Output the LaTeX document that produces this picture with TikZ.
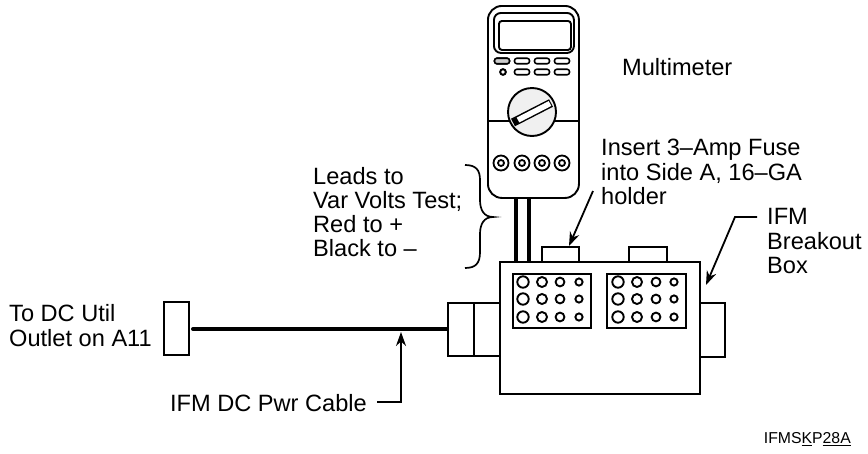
\documentclass[tikz,border=0pt]{standalone}
\usepackage{fontspec}
\setmainfont{Liberation Sans}
\usetikzlibrary{arrows.meta}
\tikzset{
    outline/.style={draw, line width=1.9pt},
    label text/.style={anchor=west, align=left, inner sep=0pt, font=\fontsize{23.6}{24.2}\selectfont},
    callout/.style={line width=1.8pt, -{Stealth[length=14pt,width=10pt]}},
    pill/.style={draw, line width=1.6pt, rounded corners=2.4pt, minimum width=15pt, minimum height=5.5pt, inner sep=0pt},
    block/.style={outline, inner sep=0pt, anchor=north west},
}
\newcommand{\holes}[1]{%
    \foreach \hx/\hr in {#1} {
        \foreach \hy in {282,299,317} {
            \draw[line width=1.9pt] (\hx,\hy) circle (\hr);
        }
    }
}
\begin{document}
\begin{tikzpicture}[x=1pt, y=-1pt]
    \useasboundingbox (0,0) rectangle (868,453);

    % meter
    \node[block, rounded corners=14pt, minimum width=91pt, minimum height=192pt] (meter) at (487,5) {};
    \node[block, rounded corners=7pt, minimum width=80pt, minimum height=40pt] (window) at (493,12) {};
    \node[block, rounded corners=3pt, minimum width=72pt, minimum height=29pt] (display) at (498,20) {};
    \foreach \px in {502,522,542,562} {
        \node[pill] at (\px,61) {};
    }
    \node[pill, fill=gray!40] at (502,61) {};
    \foreach \px in {522,542,562} {
        \node[pill] at (\px,72) {};
    }
    \draw[line width=2pt] (503,72) circle (2.8);
    \draw[outline] (meter.west |- 0,121) -- (meter.east |- 0,121);
    \node[outline, circle, fill=gray!12, minimum size=48pt, inner sep=0pt] (dial) at (532,112) {};
    \draw[line width=8.5pt] (513,122.5) -- (551,103);
    \draw[white, line width=5.5pt] (518,120) -- (550,103.5);
    \foreach \jx in {501,522,542,562} {
        \draw[line width=1.8pt] (\jx,163) circle (7.5);
        \draw[line width=1.8pt] (\jx,163) circle (3);
    }

    % box
    \node[block, minimum width=200pt, minimum height=132pt] (box) at (499,261) {};
    \node[block, minimum width=37pt, minimum height=15pt] (fuseA) at (541,246) {};
    \node[block, minimum width=38pt, minimum height=15pt] (fuseB) at (628,246) {};
    \node[block, minimum width=78pt, minimum height=54pt] (panelA) at (512,273) {};
    \node[block, minimum width=79pt, minimum height=54pt] (panelB) at (606,273) {};
    \holes{523/5.7,542/5,560/4.4,579/3.6}
    \holes{618/5.7,637/5,656/4.4,674/3.6}
    \node[block, minimum width=52pt, minimum height=53pt] (left) at (447,302) {};
    \draw[outline] (474,302) -- (474,355);
    \node[block, minimum width=25pt, minimum height=54pt] (right) at (699,302) {};
    \node[block, minimum width=25pt, minimum height=53pt] (plug) at (163,301) {};

    % leads and cable
    \draw[line width=4pt] (516,197) -- (516,261);
    \draw[line width=3.2pt] (529,197) -- (529,261);
    \coordinate (cablestart) at (193,329);
    \draw[line width=4pt, line cap=round] (cablestart) -- (left.west |- cablestart);

    % brace
    \draw[line width=1.7pt] (465,165) .. controls (476,165) and (480,170) .. (480,180)
        -- (480,200) .. controls (480,210) and (484,217) .. (493,217)
        .. controls (484,217) and (480,224) .. (480,234)
        -- (480,252) .. controls (480,263) and (476,268) .. (465,268);

    % labels
    \node[label text] (mmlabel) at (622,67) {Multimeter};
    \node[label text] (fuselabel) at (601,172) {Insert 3--Amp Fuse\\into Side A, 16--GA\\holder};
    \node[label text] (ifmlabel) at (767,241) {IFM\\Breakout\\Box};
    \node[label text] (leadslabel) at (313,212) {Leads to\\Var Volts Test;\\Red to +\\Black to --};
    \node[label text] (utillabel) at (9,325.5) {To DC Util\\Outlet on A11};
    \node[label text, anchor=east] (cablelabel) at (367,403) {IFM DC Pwr Cable};
    \node[anchor=east, inner sep=0pt, font=\fontsize{15.8}{18}\selectfont] (figlabel) at (851,439) {IFMS\underline{K}P\underline{28A}};

    % callouts
    \coordinate (fusefrom) at (593,191);
    \coordinate (fusetip) at (569,246);
    \coordinate (cablefrom) at (377,402);
    \coordinate (cabletip) at (401,332);
    \coordinate (ifmfrom) at (757,217);
    \coordinate (ifmbend) at (735,217);
    \coordinate (ifmtip) at (706,285);
    \draw[callout] (fusefrom) -- (fusetip);
    \draw[callout] (cablefrom) -| (cabletip);
    \draw[callout] (ifmfrom) -- (ifmbend) -- (ifmtip);
\end{tikzpicture}
\end{document}
